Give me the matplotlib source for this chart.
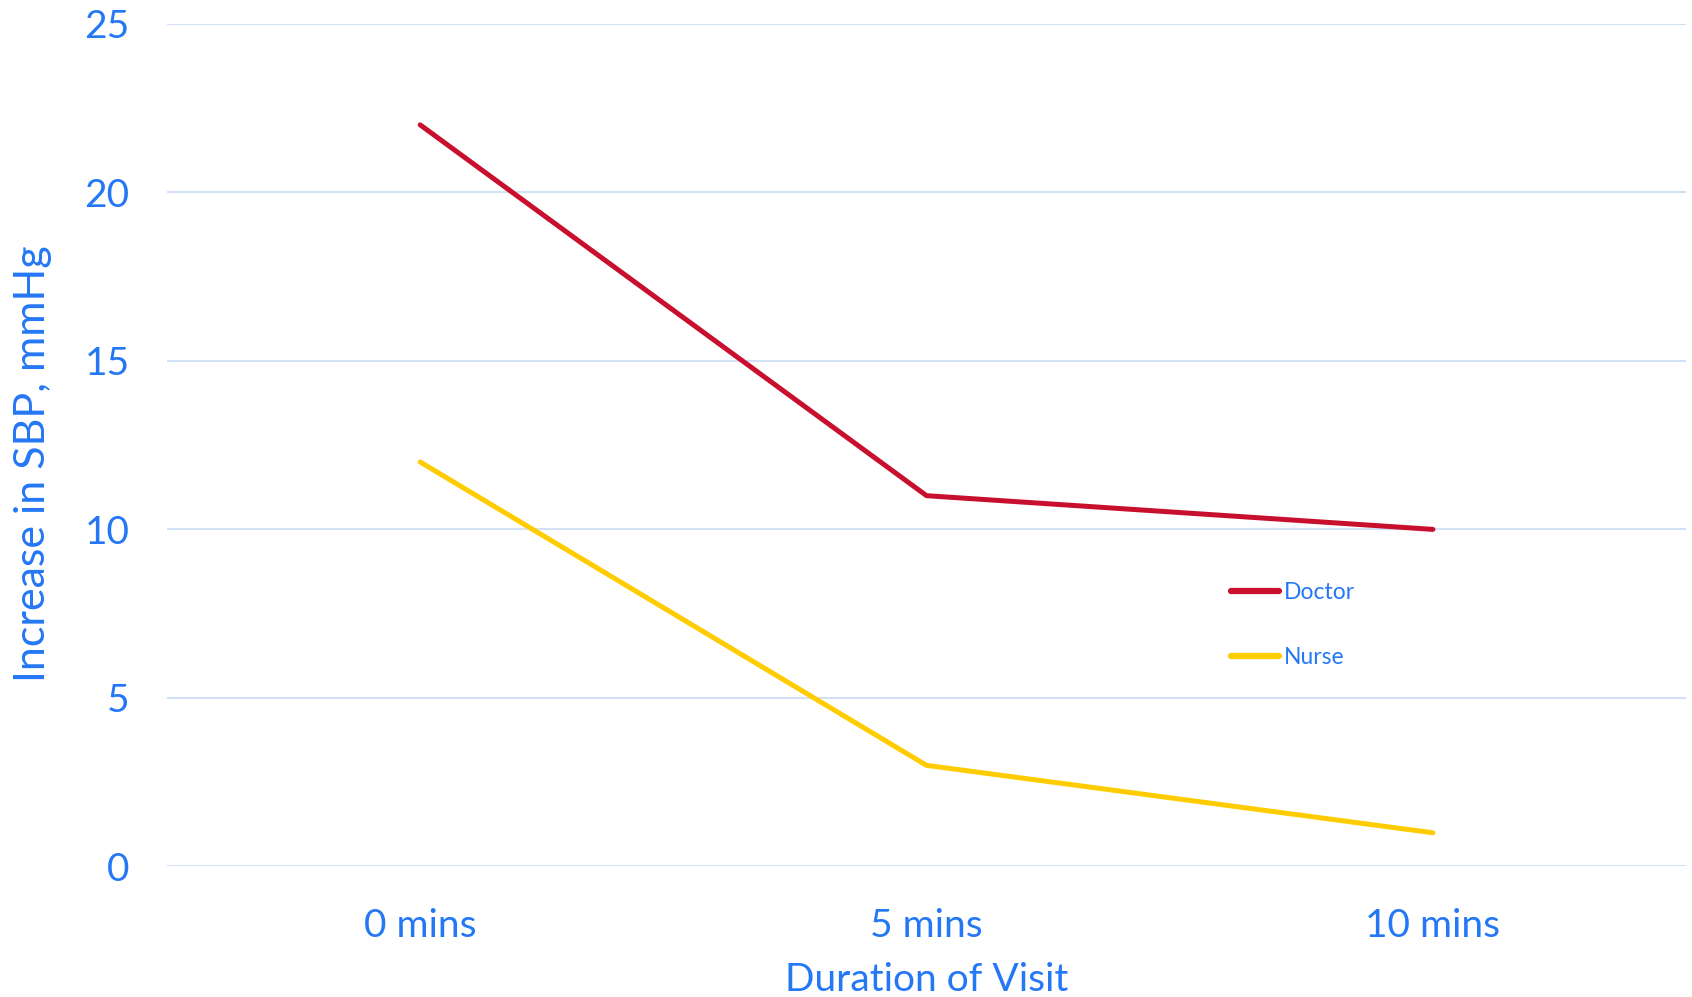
import matplotlib.pyplot as plt

# SBP rise by visit duration
durations = ['0 mins', '5 mins', '10 mins']
doctor = [22, 11, 10]
nurse = [12, 3, 1]

blue = '#2477F5'
plt.rcParams['font.family'] = ['Lato', 'DejaVu Sans']

fig = plt.figure(figsize=(16.92, 9.97), dpi=100)
ax = fig.add_axes([0.0987, 0.1309, 0.8978, 0.8453])

x = [i + 0.5 for i in range(len(durations))]
ax.plot(x, doctor, color='#C8102E', lw=3.6, label='Doctor', solid_capstyle='round')
ax.plot(x, nurse, color='#FFCC00', lw=3.6, label='Nurse', solid_capstyle='round')

ax.set_xlim(0, 3)
ax.set_ylim(0, 25)
ax.set_yticks([0, 5, 10, 15, 20, 25])
ax.set_xticks(x)
ax.set_xticklabels(durations)

ax.grid(axis='y', color='#D2E1F7', lw=1.5)
ax.set_axisbelow(True)
for s in ax.spines.values():
    s.set_visible(False)
ax.tick_params(length=0, labelsize=28, colors=blue)
ax.tick_params(axis='y', pad=27)
ax.tick_params(axis='x', pad=30)

ax.set_xlabel('Duration of Visit', fontsize=28, color=blue, labelpad=13)
ax.set_ylabel('Increase in SBP, mmHg', fontsize=31, color=blue)
ax.yaxis.set_label_coords(-0.076, 0.478)

leg = ax.legend(loc='upper left', bbox_to_anchor=(0.687, 0.362), frameon=False,
                fontsize=16.5, handlelength=2.1, handletextpad=0.2, labelspacing=1.9)
for t in leg.get_texts():
    t.set_color(blue)
for h in leg.get_lines():
    h.set_linewidth(4.5)

fig.savefig('out.png')
